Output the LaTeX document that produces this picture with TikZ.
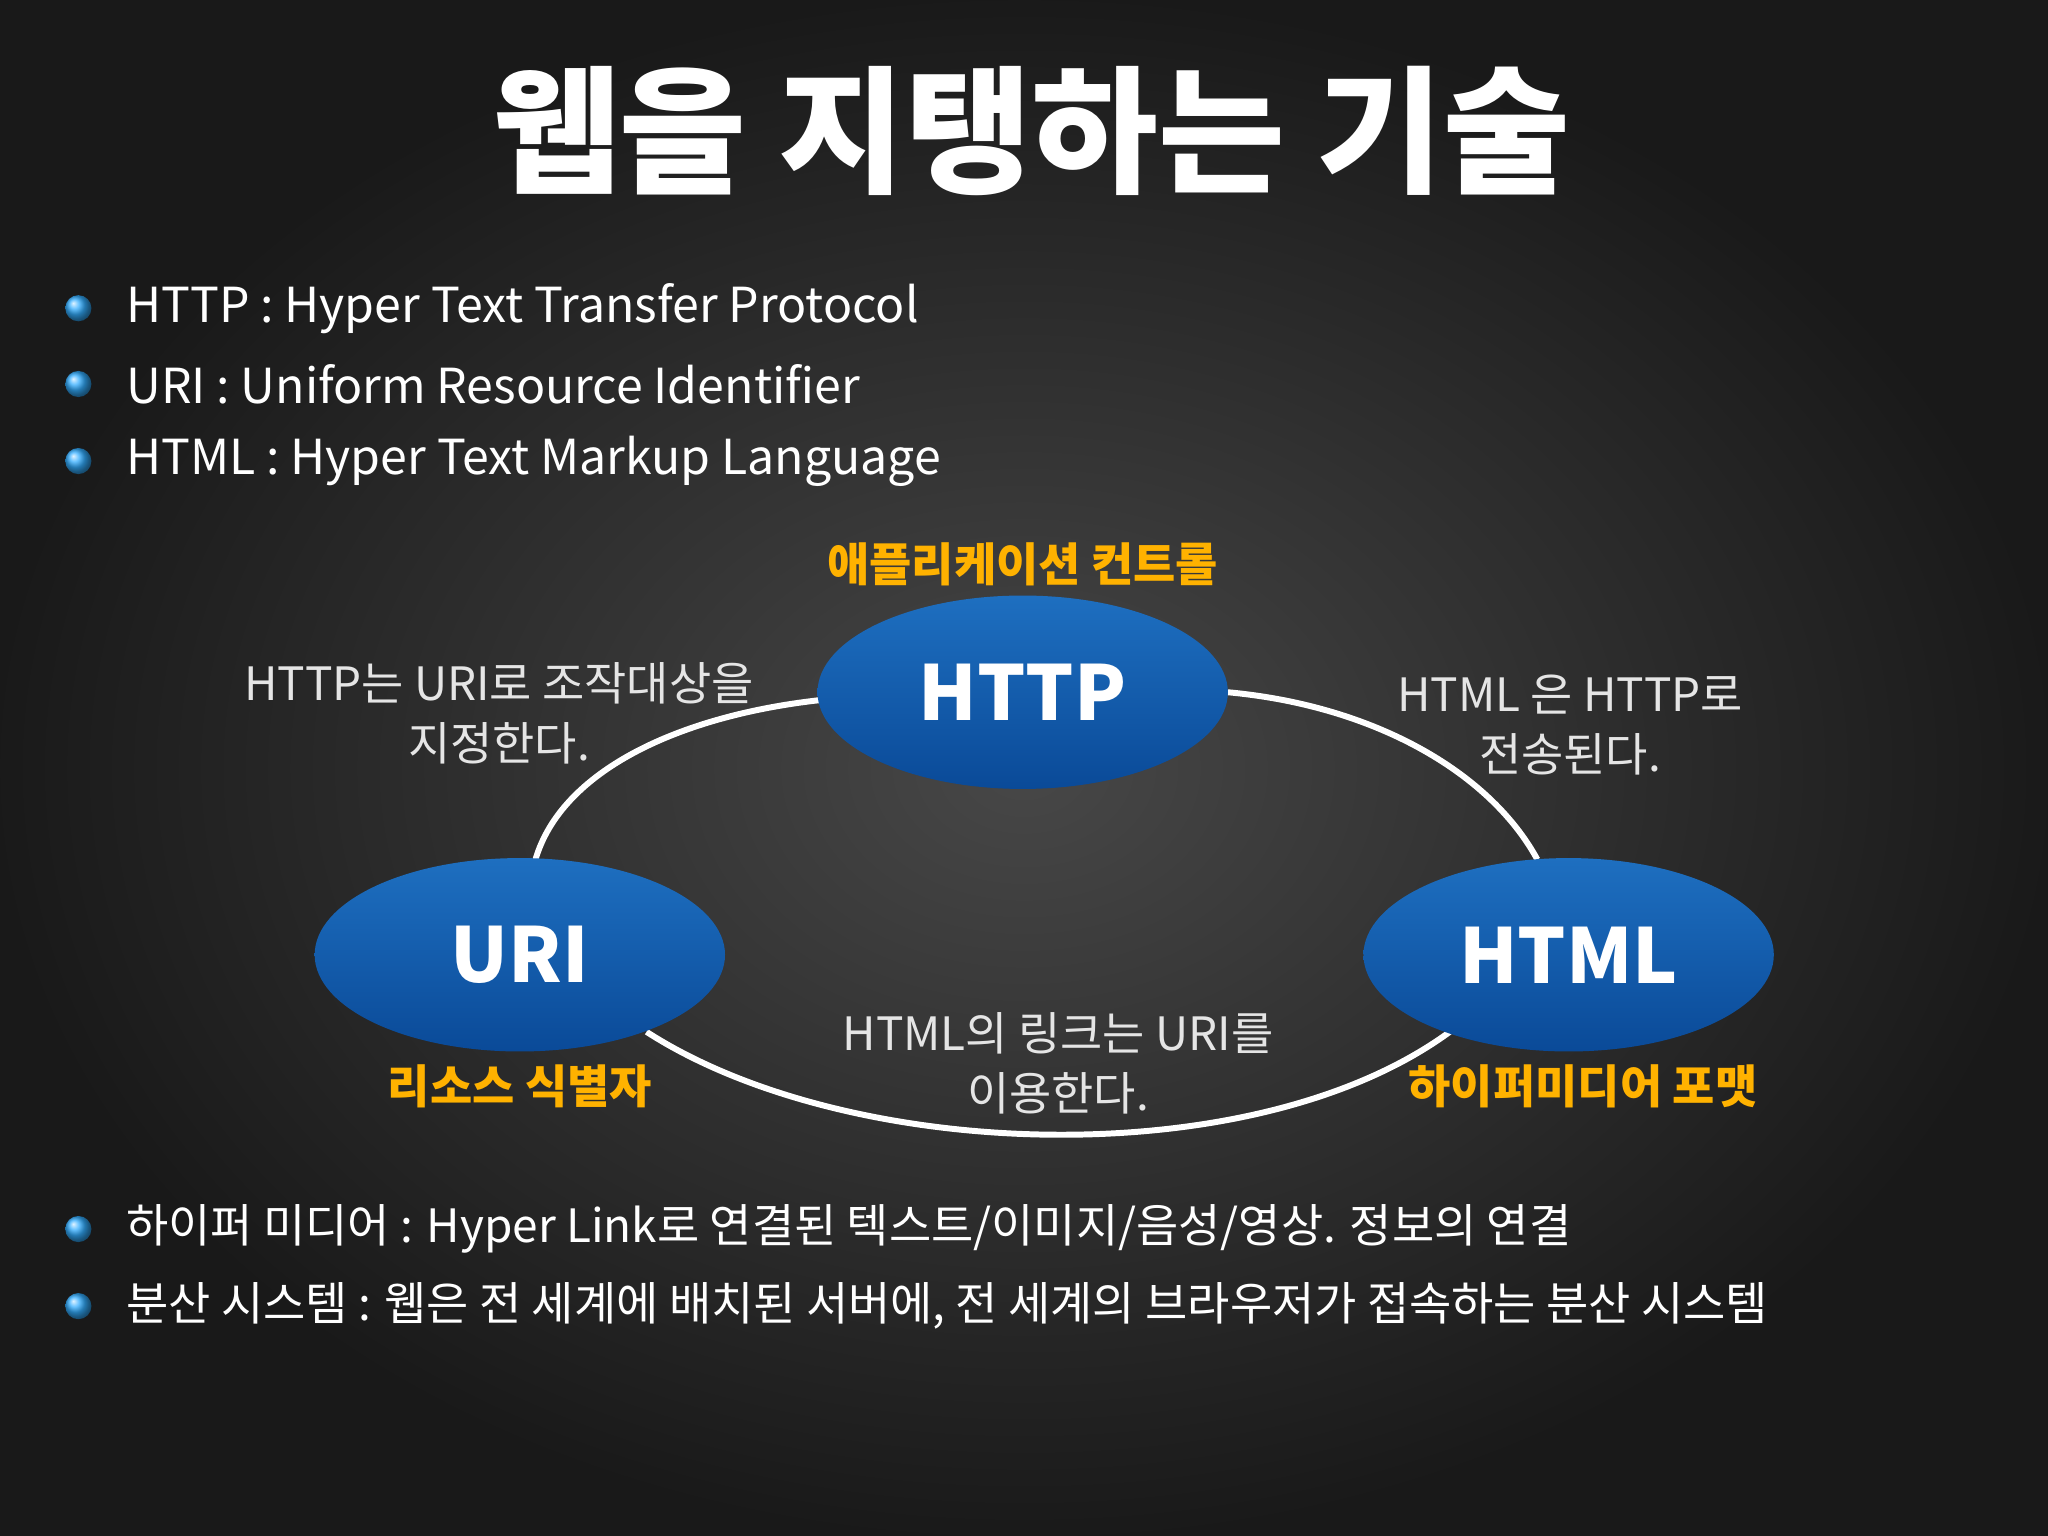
\documentclass[tikz,border=0pt]{standalone}
\usepackage{fontspec}
\setmainfont{Noto Sans CJK KR}
\usetikzlibrary{shapes.geometric,calc}
\definecolor{etop}{HTML}{1E6FC0}
\definecolor{ebot}{HTML}{0A4A98}
\begin{document}
\begin{tikzpicture}[x=0.01cm,y=-0.01cm,
  ell/.style={ellipse,minimum width=3.14cm,minimum height=1.48cm,inner sep=0,
    top color=etop, bottom color=ebot,
    text=white,font=\fontsize{16.5}{20}\selectfont\bfseries},
  bul/.style={circle,inner sep=0,minimum size=0.2cm,ball color=blue!40!cyan!80!white},
  btxt/.style={anchor=west,text=white,font=\fontsize{10.5}{12}\selectfont,inner sep=0},
  lab/.style={text=white!90!black,font=\fontsize{10}{13}\selectfont,align=center},
  olab/.style={text=orange!60!yellow,font=\fontsize{10}{12}\selectfont\bfseries},
  con/.style={draw=white,line width=1.3pt}]
\fill[inner color=black!72, outer color=black!90] (0,0) rectangle (1568,1176);
\useasboundingbox (0,0) rectangle (1568,1176);
\node[text=white,font=\fontsize{30}{34}\selectfont\bfseries] (title) at (790,100) {웹을 지탱하는 기술};
\foreach \y/\t [count=\i] in {236/{HTTP : Hyper Text Transfer Protocol},294/{URI : Uniform Resource Identifier},353/{HTML : Hyper Text Markup Language},941/{\fontsize{10}{12}\selectfont 하이퍼 미디어 : Hyper Link로 연결된 텍스트/이미지/음성/영상. 정보의 연결},1000/{\fontsize{10}{12}\selectfont 분산 시스템 : 웹은 전 세계에 배치된 서버에, 전 세계의 브라우저가 접속하는 분산 시스템}}{
  \node[bul] (b\i) at (60,\y) {};
  \node[btxt] (t\i) at (96,\y) {\t};
}
\draw[con] (628,536) .. controls (520,548) and (430,590) .. (410,658);
\draw[con] (940,530) .. controls (1050,540) and (1140,590) .. (1177,658);
\draw[con] (495,790) .. controls (650,890) and (960,900) .. (1110,790);
\node[ell] (http) at (783,530) {HTTP};
\node[ell] (uri) at (398,731) {URI};
\node[ell] (html) at (1201,731) {HTML};
\node[olab] (ol1) at (783,432) {애플리케이션 컨트롤};
\node[olab] (ol2) at (398,832) {리소스 식별자};
\node[olab] (ol3) at (1212,832) {하이퍼미디어 포맷};
\node[lab] (l1) at (382,546) {HTTP는 URI로 조작대상을\\지정한다.};
\node[lab] (l2) at (1202,555) {HTML 은 HTTP로\\전송된다.};
\node[lab] (l3) at (810,814) {HTML의 링크는 URI를\\이용한다.};
\end{tikzpicture}
\end{document}
